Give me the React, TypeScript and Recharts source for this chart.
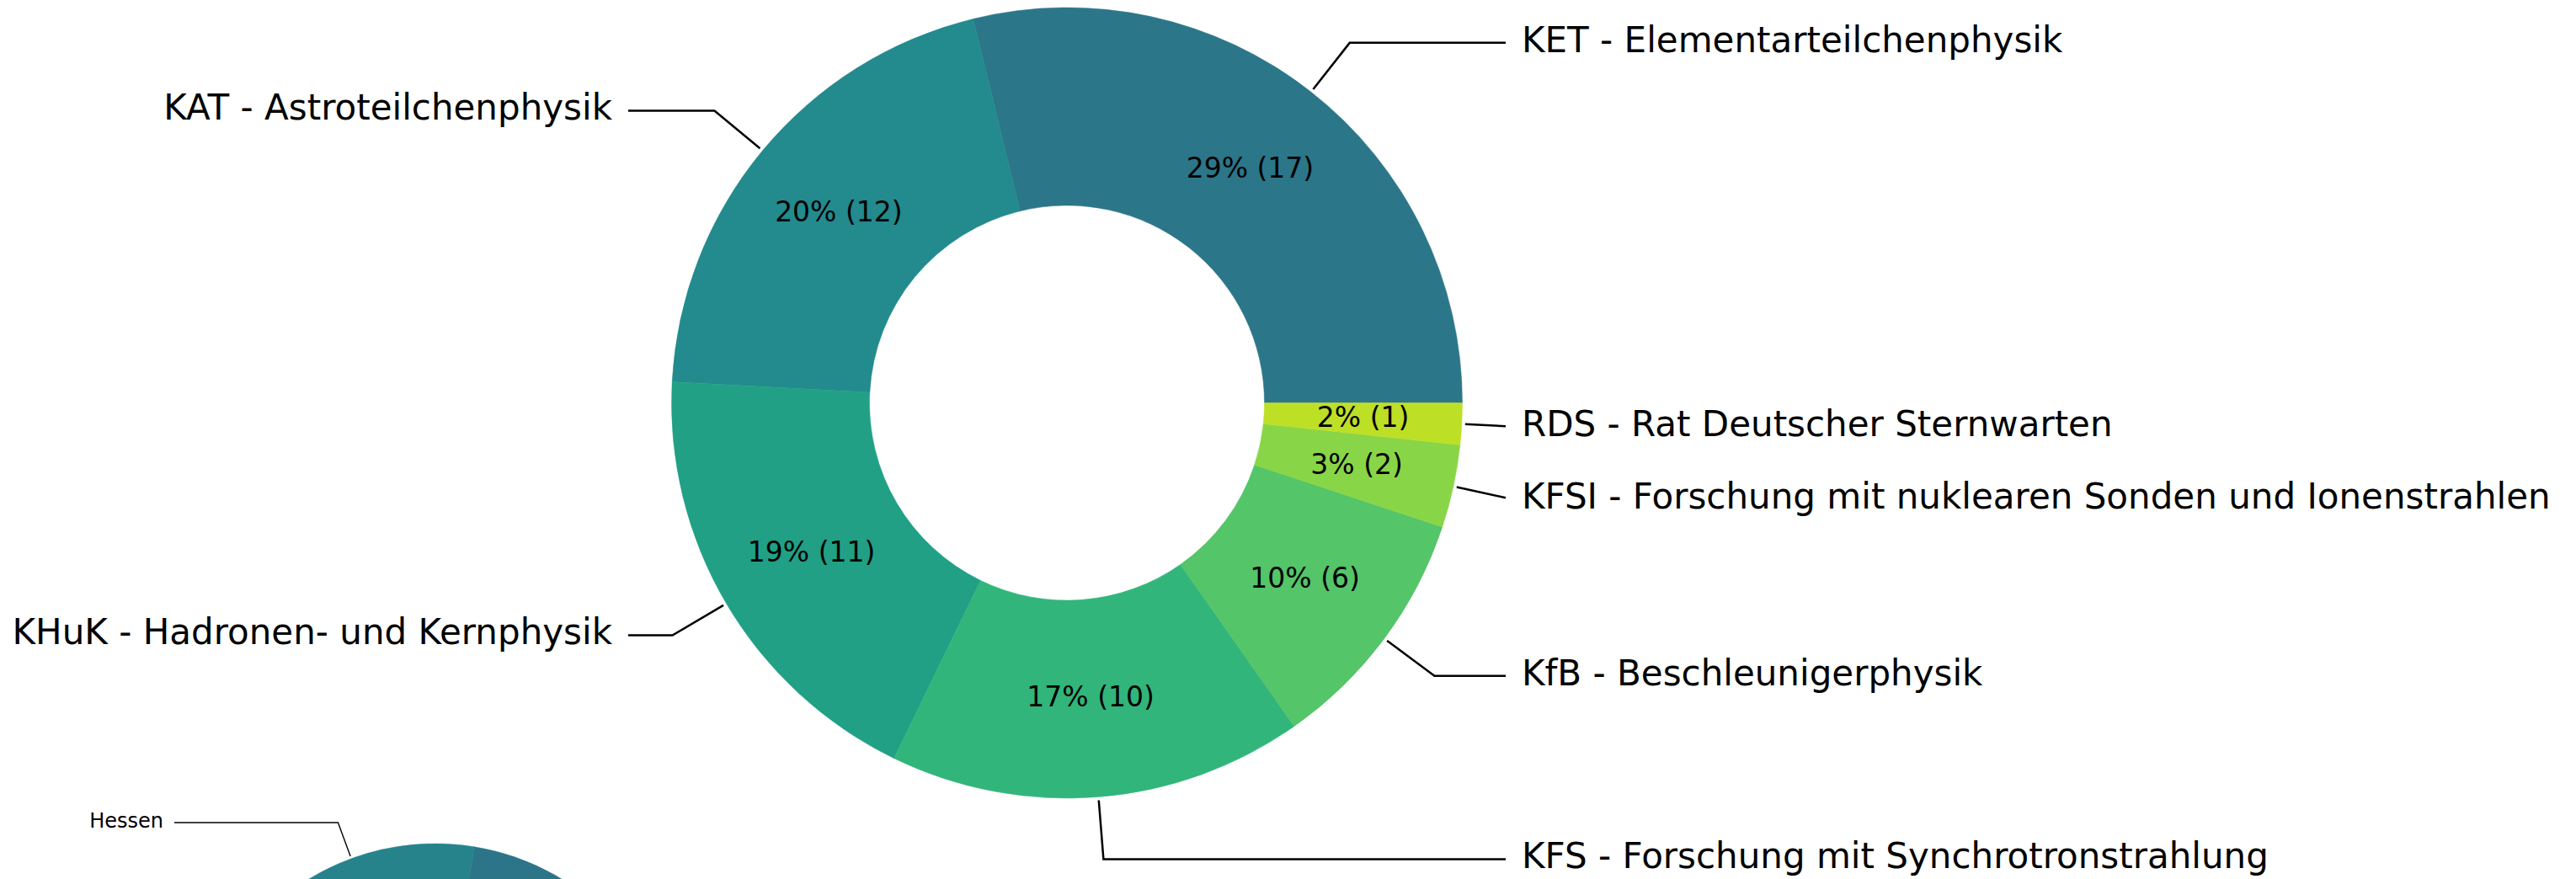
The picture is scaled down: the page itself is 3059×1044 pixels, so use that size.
import React from 'react';
import { PieChart, Pie, Cell } from 'recharts';

// main donut: committees (Komitees)
const committees = [
  'KET - Elementarteilchenphysik',
  'KAT - Astroteilchenphysik',
  'KHuK - Hadronen- und Kernphysik',
  'KFS - Forschung mit Synchrotronstrahlung',
  'KfB - Beschleunigerphysik',
  'KFSI - Forschung mit nuklearen Sonden und Ionenstrahlen',
  'RDS - Rat Deutscher Sternwarten'
];
const committeeCounts = [17, 12, 11, 10, 6, 2, 1];
const committeeColors = ['#2c7689', '#238a8d', '#21a086', '#32b57a', '#54c568', '#89d548', '#bddf26'];

// second donut, only its top edge is visible (other names unreadable)
const states = ['', 'Hessen', '', '', ''];
const stateCounts = [11, 8, 12, 10, 8];
const stateColors = ['#2c7589', '#26838c', '#21918c', '#1fa187', '#2db27d'];

const committeeData = committees.map((name, i) => ({ name, value: committeeCounts[i] }));
const stateData = states.map((name, i) => ({ name, value: stateCounts[i] }));

const RAD = Math.PI / 180;
const FONT = 'DejaVu Sans';

type LabelOpts = {
  fontSize: number;
  pctSize: number;
  showPct: boolean;
  textOffset: number;
  lineEnd: number;
  tipGap: number;
  lineWidth: number;
};

const makeLabel = (o: LabelOpts) => (props: any) => {
  const { cx, cy, midAngle, outerRadius, value, name, percent } = props;
  const cos = Math.cos(-midAngle * RAD);
  const sin = Math.sin(-midAngle * RAD);
  const side = cos >= 0 ? 1 : -1;

  const pr = outerRadius * 0.75;
  const pctText = `${Math.round(percent * 100)}% (${value})`;

  const tipR = outerRadius + o.tipGap;
  const tip: [number, number] = [cx + tipR * cos, cy + tipR * sin];
  const kneeR = outerRadius * 1.158;
  const labelY = cy + kneeR * sin;
  const knee: [number, number] = [cx + kneeR * cos, labelY];
  const endX = cx + side * o.lineEnd;
  let pts: [number, number][];
  if (side * (knee[0] - endX) >= 0) {
    const t = (endX - cx) / cos;
    pts = [tip, [endX, cy + t * sin]];
  } else {
    pts = [tip, knee, [endX, labelY]];
  }

  return (
    <g>
      {o.showPct && (
        <text
          x={cx + pr * cos}
          y={cy + pr * sin + o.pctSize * 0.29}
          textAnchor="middle"
          fontSize={o.pctSize}
          fontFamily={FONT}
          fill="#000"
        >
          {pctText}
        </text>
      )}
      {name ? (
        <>
          <polyline
            points={pts.map((p) => p.join(',')).join(' ')}
            fill="none"
            stroke="#000"
            strokeWidth={o.lineWidth}
          />
          <text
            x={cx + side * o.textOffset}
            y={labelY + o.fontSize * 0.26}
            textAnchor={side > 0 ? 'start' : 'end'}
            fontSize={o.fontSize}
            fontFamily={FONT}
            fill="#000"
          >
            {name}
          </text>
        </>
      ) : null}
    </g>
  );
};

const mainLabel = makeLabel({ fontSize: 42, pctSize: 33, showPct: true, textOffset: 540, lineEnd: 521, tipGap: 4, lineWidth: 2.5 });
const stateLabel = makeLabel({ fontSize: 24, pctSize: 19, showPct: false, textOffset: 323, lineEnd: 310, tipGap: 3, lineWidth: 1.4 });

export default function App() {
  return (
    <div style={{ position: 'absolute', left: 0, top: 0, width: 3059, height: 1044, overflow: 'hidden', background: '#fff' }}>
      <PieChart width={3059} height={1044} margin={{ top: 0, right: 0, bottom: 0, left: 0 }}>
        <Pie
          data={committeeData}
          dataKey="value"
          nameKey="name"
          cx={1267}
          cy={478.5}
          innerRadius={234.5}
          outerRadius={469.5}
          startAngle={0}
          endAngle={360}
          label={mainLabel}
          labelLine={false}
          isAnimationActive={false}
        >
          {committeeData.map((d, i) => (
            <Cell key={d.name} fill={committeeColors[i]} stroke={committeeColors[i]} strokeWidth={0.5} />
          ))}
        </Pie>
        <Pie
          data={stateData}
          dataKey="value"
          nameKey="name"
          cx={517}
          cy={1291}
          innerRadius={145}
          outerRadius={289}
          startAngle={0}
          endAngle={360}
          label={stateLabel}
          labelLine={false}
          isAnimationActive={false}
        >
          {stateData.map((d, i) => (
            <Cell key={i} fill={stateColors[i]} stroke={stateColors[i]} strokeWidth={0.5} />
          ))}
        </Pie>
      </PieChart>
    </div>
  );
}
